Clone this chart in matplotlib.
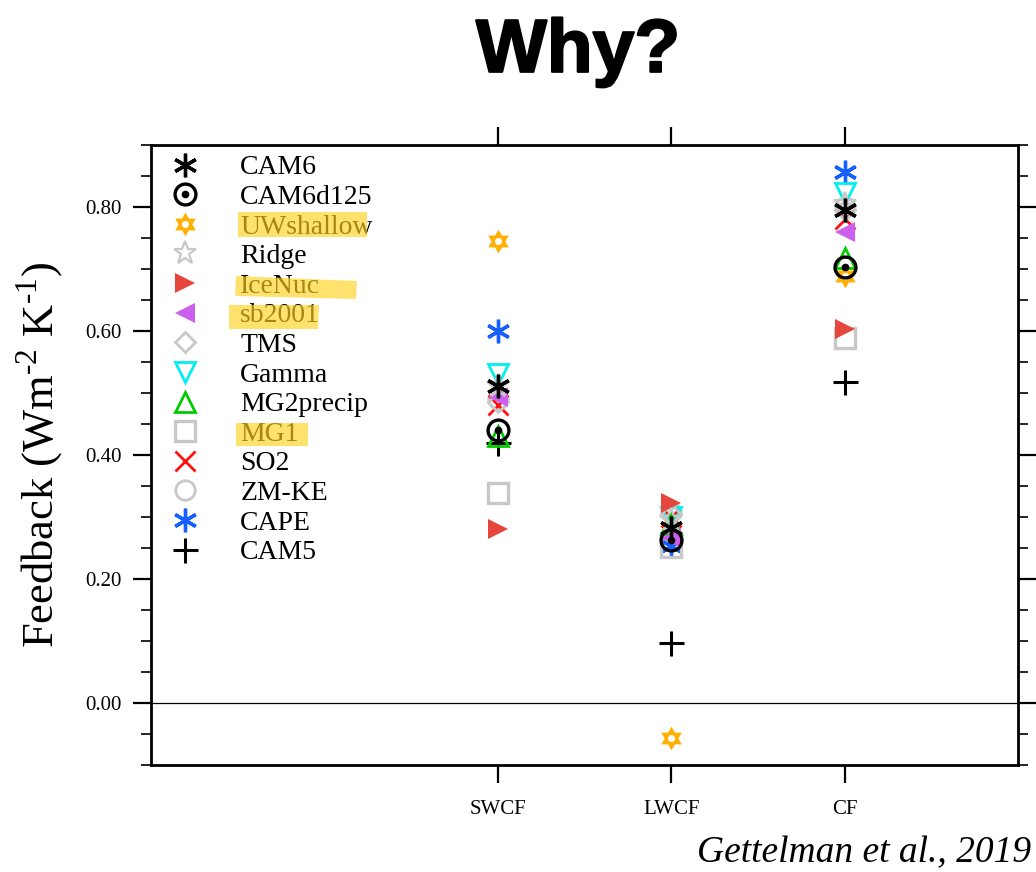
import numpy as np
import matplotlib
matplotlib.use('Agg')
import matplotlib.pyplot as plt
from matplotlib.path import Path
from matplotlib.patches import Polygon
from matplotlib.legend_handler import HandlerTuple
from matplotlib.ticker import MultipleLocator
import matplotlib.patheffects as pe

plt.rcParams['font.family'] = ['Liberation Serif', 'DejaVu Serif']
plt.rcParams['mathtext.fontset'] = 'custom'
plt.rcParams['mathtext.rm'] = 'Liberation Serif'

# data
categories = ['SWCF', 'LWCF', 'CF']
models = ['CAM6', 'CAM6d125', 'UWshallow', 'Ridge', 'IceNuc', 'sb2001', 'TMS',
          'Gamma', 'MG2precip', 'MG1', 'SO2', 'ZM-KE', 'CAPE', 'CAM5']
swcf = [0.512, 0.441, 0.745, 0.512, 0.280, 0.493, 0.485, 0.530, 0.430, 0.339, 0.480, 0.490, 0.600, 0.420]
lwcf = [0.283, 0.263, -0.057, 0.295, 0.323, 0.266, 0.305, 0.300, 0.288, 0.252, 0.300, 0.308, 0.253, 0.097]
cf = [0.795, 0.704, 0.688, 0.805, 0.603, 0.759, 0.795, 0.823, 0.718, 0.588, 0.780, 0.800, 0.857, 0.517]

# hexagram with a hole in the middle
star = Path.unit_regular_star(6, 0.58)
th = np.linspace(0, 2 * np.pi, 25)
hole = Path(np.column_stack([0.3 * np.sin(th), 0.3 * np.cos(th)]), closed=True)
hexstar = Path.make_compound_path(star, hole)

grey = '#c8c8c8'
styles = {
    'CAM6':      dict(marker=(6, 2, 0), color='black', ms=17, mew=2.4),
    'CAM6d125':  dict(marker='o', color='black', mfc='none', ms=15, mew=2.4),
    'UWshallow': dict(marker=hexstar, color='#ffb000', ms=17, mew=0),
    'Ridge':     dict(marker='*', color=grey, mfc='none', ms=17, mew=1.6),
    'IceNuc':    dict(marker='>', color='#e5473d', ms=15, mew=0),
    'sb2001':    dict(marker='<', color='#cc5fee', ms=15, mew=0),
    'TMS':       dict(marker='D', color=grey, mfc='none', ms=10, mew=2.0),
    'Gamma':     dict(marker='v', color='#00f0f0', mfc='none', ms=14, mew=2.0),
    'MG2precip': dict(marker='^', color='#00cc00', mfc='none', ms=14, mew=2.0),
    'MG1':       dict(marker='s', color=grey, mfc='none', ms=14, mew=2.4),
    'SO2':       dict(marker='x', color='#ff1010', ms=14, mew=2.0),
    'ZM-KE':     dict(marker='o', color=grey, mfc='none', ms=14, mew=2.0),
    'CAPE':      dict(marker=(6, 2, 0), color='#1560ff', ms=17, mew=2.4),
    'CAM5':      dict(marker='+', color='black', ms=18, mew=2.2),
}

fig = plt.figure(figsize=(10.36, 8.72), dpi=100)
ax = fig.add_axes([0.1458, 0.1227, 0.8368, 0.711])

xpos = np.arange(1, len(categories) + 1)
n = len(models)
handles = []
for i, m in enumerate(models):
    st = dict(styles[m])
    vals = [swcf[i], lwcf[i], cf[i]]
    # first models in the list end up on top
    z = 3 + (n - i) * 0.01
    h, = ax.plot(xpos, vals, linestyle='none', label=m, zorder=z, **st)
    if m == 'CAM6d125':
        d, = ax.plot(xpos, vals, linestyle='none', marker='o', color='black', ms=4.5, zorder=z)
        h = (h, d)
    handles.append(h)

ax.axhline(0, color='black', lw=0.9, zorder=1)

ax.set_xlim(-1, 4)
ax.set_ylim(-0.1, 0.9)
ax.set_xticks(xpos)
ax.set_xticklabels(categories, fontsize=15)
ax.yaxis.set_major_locator(MultipleLocator(0.2))
ax.yaxis.set_minor_locator(MultipleLocator(0.05))
ax.yaxis.set_major_formatter(matplotlib.ticker.FormatStrFormatter('%.2f'))
ax.tick_params(axis='both', which='major', direction='out', length=13, width=1.6,
               top=True, right=True, labelsize=15, pad=8)
ax.tick_params(axis='y', which='minor', direction='out', length=7, width=1.2, right=True)
ax.tick_params(axis='x', pad=12)
for s in ax.spines.values():
    s.set_linewidth(2.0)

ax.set_ylabel('Feedback (Wm$^{\\mathrm{-2}}$ K$^{\\mathrm{-1}}$)'.replace('-', '\u2010'),
              fontsize=32, labelpad=14)

leg = ax.legend(handles, models, loc='upper left', frameon=False, fontsize=20,
                handler_map={tuple: HandlerTuple(ndivide=1)},
                labelspacing=0.15, handlelength=1.2, handletextpad=1.4,
                borderpad=0, borderaxespad=0, bbox_to_anchor=(0.0196, 0.984))

# yellow highlighter marks over some legend entries (figure fractions)
W, H = 1036.0, 872.0
marks = [
    [(238, 212), (367, 212), (367, 237), (238, 237)],
    [(236, 276), (357, 281), (356, 299), (235, 296)],
    [(229, 305), (319, 305), (318, 329), (229, 329)],
    [(236, 423), (308, 423), (308, 446), (236, 446)],
]
for pts in marks:
    poly = Polygon([(x / W, 1 - y / H) for x, y in pts], closed=True,
                   transform=fig.transFigure, facecolor='#ffd21f', alpha=0.65,
                   edgecolor='none', zorder=10)
    fig.patches.append(poly)

fig.text(0.558, 0.94, 'Why?', ha='center', va='center', fontsize=54,
         family='Liberation Sans', weight='bold',
         path_effects=[pe.withStroke(linewidth=1.5, foreground='black')])
fig.text(0.995, 0.011, 'Gettelman et al., 2019', ha='right', va='baseline',
         fontsize=27, style='italic')

fig.savefig('out.png', dpi=100)
